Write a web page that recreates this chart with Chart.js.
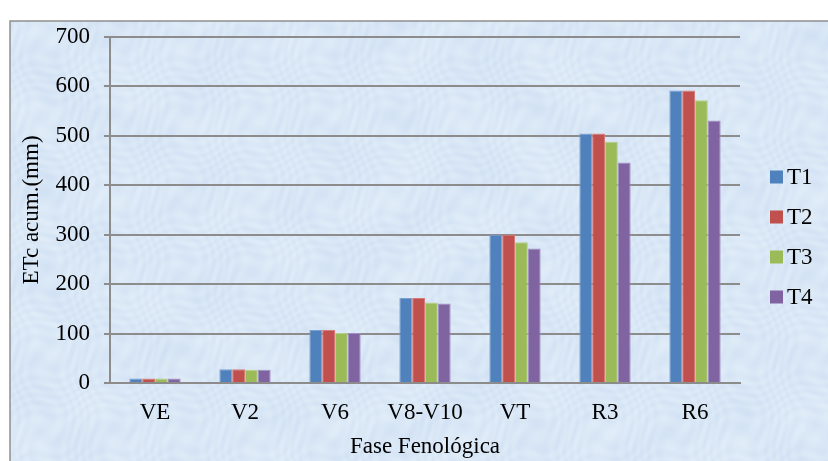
<!DOCTYPE html>
<html>
<head>
<meta charset="utf-8">
<script src="https://cdn.jsdelivr.net/npm/chart.js@4/dist/chart.umd.min.js"></script>
<style>
  html, body { margin: 0; padding: 0; background: #ffffff; }
  #wrap { width: 828px; height: 461px; position: relative; }
</style>
</head>
<body>
<div id="wrap"><canvas id="c" width="828" height="461"></canvas></div>
<script>
// Phenological stages (x axis)
const categories = ['VE', 'V2', 'V6', 'V8-V10', 'VT', 'R3', 'R6'];
// Accumulated ETc (mm) per treatment
const t1 = [9, 28, 107, 172, 300, 505, 592];
const t2 = [9, 28, 107, 172, 300, 505, 592];
const t3 = [9, 27, 101, 163, 285, 488, 572];
const t4 = [9, 27, 101, 161, 272, 446, 531];
const seriesNames = ['T1', 'T2', 'T3', 'T4'];
const seriesColors = ['#4f81bd', '#c0504d', '#9bbb59', '#8064a2'];
const seriesEdges = ['#7a9fd0', '#d77b78', '#b6cf85', '#a28ebf'];
const yTicks = [0, 100, 200, 300, 400, 500, 600, 700];

const FONT = 'Liberation Serif, Times New Roman, serif';
const FS = 23;
const GRID = '#8c8c8c';

// Light blue mottled panel behind the chart
function makeTexture(w, h) {
  const cv = document.createElement('canvas');
  cv.width = w; cv.height = h;
  const g = cv.getContext('2d');
  const img = g.createImageData(w, h);
  for (let y = 0; y < h; y++) {
    for (let x = 0; x < w; x++) {
      const a = Math.sin(x * 0.043 + Math.sin(y * 0.031) * 3.1);
      const b = Math.sin(y * 0.057 + Math.cos(x * 0.027) * 2.7);
      const c = Math.sin(x * 0.37 + y * 0.21 + Math.sin(x * 0.09) * 4) *
                Math.sin(y * 0.29 - x * 0.17 + Math.cos(y * 0.08) * 4);
      const k = (a * 0.35 + b * 0.35) * 4 + c * 5;
      const i = (y * w + x) * 4;
      img.data[i] = 217 + k;
      img.data[i + 1] = 231 + k * 0.8;
      img.data[i + 2] = 246 + k * 0.3;
      img.data[i + 3] = 255;
    }
  }
  g.putImageData(img, 0, 0);
  return cv;
}

const panelPlugin = {
  id: 'panel',
  beforeDraw(chart) {
    const ctx = chart.ctx;
    ctx.save();
    ctx.fillStyle = '#ffffff';
    ctx.fillRect(0, 0, chart.width, chart.height);
    const tex = makeTexture(chart.width - 10, chart.height - 21);
    ctx.drawImage(tex, 10, 21);
    ctx.strokeStyle = '#8f8f8f';
    ctx.lineWidth = 1.5;
    ctx.beginPath();
    ctx.moveTo(10, chart.height + 2);
    ctx.lineTo(10, 21);
    ctx.lineTo(chart.width + 2, 21);
    ctx.stroke();
    ctx.restore();
  }
};

// Legend drawn at the right of the plot
const legendPlugin = {
  id: 'sideLegend',
  afterDraw(chart) {
    const ctx = chart.ctx;
    ctx.save();
    ctx.font = FS + 'px ' + FONT;
    ctx.textBaseline = 'middle';
    chart.data.datasets.forEach((ds, i) => {
      const cy = 177 + i * 40;
      ctx.fillStyle = ds.backgroundColor;
      ctx.fillRect(770, cy - 6.5, 13, 13);
      ctx.fillStyle = '#000';
      ctx.fillText(ds.label, 787, cy + 1);
    });
    ctx.restore();
  }
};

const seriesData = [t1, t2, t3, t4];

new Chart(document.getElementById('c'), {
  type: 'bar',
  data: {
    labels: categories,
    datasets: seriesData.map((d, i) => ({
      label: seriesNames[i],
      data: d,
      backgroundColor: seriesColors[i],
      borderColor: seriesEdges[i],
      borderWidth: { top: 1, left: 1, right: 1, bottom: 0 },
      categoryPercentage: 0.57,
      barPercentage: 1.0
    }))
  },
  options: {
    responsive: false,
    animation: false,
    events: [],
    layout: { padding: { left: 0, right: 88, top: 37, bottom: 0 } },
    plugins: {
      legend: { display: false },
      tooltip: { enabled: false }
    },
    scales: {
      x: {
        grid: { display: false, drawTicks: false },
        border: { color: GRID, width: 2 },
        ticks: { color: '#000', font: { family: FONT, size: FS }, padding: 16, maxRotation: 0 },
        title: {
          display: true, text: 'Fase Fenológica', color: '#000',
          font: { family: FONT, size: FS }, padding: { top: 4, bottom: 0 }
        },
        afterFit(scale) { scale.height = 78; }
      },
      y: {
        min: 0, max: 700,
        afterBuildTicks(scale) { scale.ticks = yTicks.map(v => ({ value: v })); },
        grid: { color: GRID, lineWidth: 2, tickLength: 6 },
        border: { color: GRID, width: 2 },
        ticks: { color: '#000', font: { family: FONT, size: FS }, padding: 14 },
        title: {
          display: true, text: 'ETc acum.(mm)', color: '#000',
          font: { family: FONT, size: FS }, padding: { top: 18, bottom: 0 }
        },
        afterFit(scale) { scale.width = 110; }
      }
    }
  },
  plugins: [panelPlugin, legendPlugin]
});
</script>
</body>
</html>
